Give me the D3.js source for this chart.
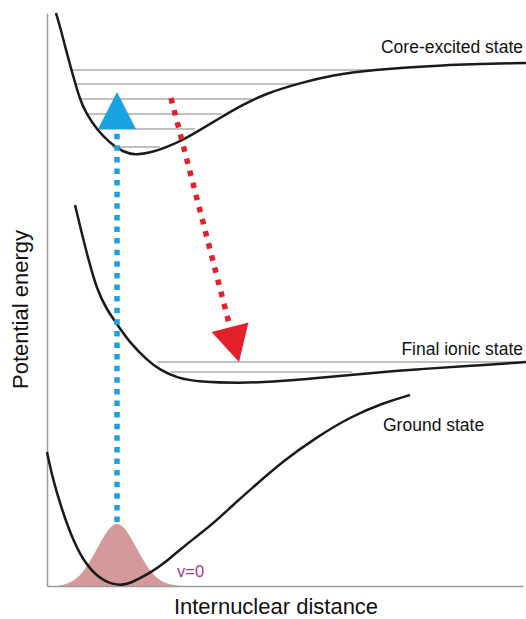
<!DOCTYPE html>
<html>
<head>
<meta charset="utf-8">
<script src="https://cdn.jsdelivr.net/npm/d3@7"></script>
<style>
    body { margin: 0; background: #fff; }
    svg { display: block; font-family: "Liberation Sans", Arial, sans-serif; }
    .axis .domain { stroke: #9a9a9a; stroke-width: 1.5; }
    .curve { fill: none; stroke: #1a1a1a; stroke-width: 2.5; }
    .level { stroke: #ababab; stroke-width: 1.5; }
</style>
</head>
<body>
<svg id="chart"></svg>
<script>
// r = internuclear distance (arb. units), E = potential energy (arb. units)
const coreExcited = [
    [0.09, 5.73], [0.14, 5.56], [0.19, 5.36], [0.25, 5.14], [0.33, 4.86],
    [0.39, 4.73], [0.50, 4.56], [0.63, 4.43], [0.76, 4.34], [0.88, 4.31],
    [1.03, 4.33], [1.20, 4.39], [1.36, 4.46], [1.53, 4.56], [1.73, 4.68],
    [1.93, 4.80], [2.20, 4.93], [2.53, 5.03], [2.86, 5.11], [3.23, 5.16],
    [3.93, 5.21], [4.79, 5.23]
];
const finalIonic = [
    [0.28, 3.81], [0.34, 3.56], [0.41, 3.28], [0.50, 2.96], [0.60, 2.76],
    [0.70, 2.62], [0.83, 2.43], [1.00, 2.26], [1.13, 2.16], [1.30, 2.08],
    [1.53, 2.04], [1.93, 2.03], [2.23, 2.04], [2.73, 2.08], [3.23, 2.13],
    [3.73, 2.17], [4.23, 2.20], [4.79, 2.24]
];
const groundState = [
    [0.00, 1.34], [0.06, 1.06], [0.16, 0.73], [0.26, 0.46], [0.36, 0.26],
    [0.50, 0.09], [0.66, 0.01], [0.80, 0.01], [0.93, 0.08], [1.03, 0.13],
    [1.20, 0.25], [1.36, 0.39], [1.53, 0.52], [1.70, 0.66], [1.86, 0.81],
    [2.03, 0.96], [2.36, 1.25], [2.70, 1.49], [3.03, 1.69], [3.36, 1.83],
    [3.63, 1.91]
];
// v=0 vibrational wavepacket of the ground state
const wavepacket = [
    [0.11, 0], [0.20, 0.02], [0.30, 0.07], [0.40, 0.19], [0.50, 0.37],
    [0.60, 0.56], [0.70, 0.65], [0.80, 0.56], [0.90, 0.37], [1.00, 0.19],
    [1.10, 0.07], [1.20, 0.02], [1.33, 0]
];
// vibrational levels: [E, rLeft, rRight]
const coreLevels = [
    [5.16, 0.24, 3.25], [5.02, 0.28, 2.51], [4.87, 0.33, 2.05],
    [4.72, 0.40, 1.75], [4.57, 0.50, 1.48], [4.39, 0.65, 1.13]
];
const ionicLevels = [
    [2.24, 1.10, 4.79], [2.14, 1.23, 3.05]
];
// transitions: [tail, tip]
const excitation = [[0.70, 0.64], [0.70, 4.94]];
const decay = [[1.24, 4.88], [1.92, 2.24]];

const stateLabels = ["Core-excited state", "Final ionic state", "Ground state"];
const stateLabelPos = [[4.76, 5.33], [4.76, 2.31], [3.36, 1.55]];

const width = 526, height = 619;

const svg = d3.select("#chart")
    .attr("width", width)
    .attr("height", height);

const x = d3.scaleLinear().domain([0, 4.76]).range([47, 523]);
const y = d3.scaleLinear().domain([0, 5.73]).range([586, 13]);

const line = d3.line()
    .x((d) => x(d[0]))
    .y((d) => y(d[1]))
    .curve(d3.curveBasis);

// vibrational levels
svg.append("g")
    .selectAll("line")
    .data(coreLevels.concat(ionicLevels))
    .join("line")
    .attr("class", "level")
    .attr("x1", (d) => x(d[1]))
    .attr("x2", (d) => x(d[2]))
    .attr("y1", (d) => y(d[0]))
    .attr("y2", (d) => y(d[0]));

// wavepacket
svg.append("path")
    .datum(wavepacket)
    .attr("fill", "#d49a9b")
    .attr("d", d3.area()
        .x((d) => x(d[0]))
        .y0(y(0))
        .y1((d) => y(d[1]))
        .curve(d3.curveBasis));

// axes, lines only
svg.append("g")
    .attr("class", "axis")
    .attr("transform", `translate(${x(0)},0)`)
    .call(d3.axisLeft(y).tickValues([]).tickSizeOuter(0));

svg.append("g")
    .attr("class", "axis")
    .attr("transform", `translate(0,${y(0)})`)
    .call(d3.axisBottom(x).tickValues([]).tickSizeOuter(0));

// potential curves
svg.selectAll(".curve")
    .data([coreExcited, finalIonic, groundState])
    .join("path")
    .attr("class", "curve")
    .attr("d", line);

// dotted arrows
function arrow(pts, color, dash, headLen, headHalf) {
    const [x0, y0] = [x(pts[0][0]), y(pts[0][1])];
    const [x1, y1] = [x(pts[1][0]), y(pts[1][1])];
    const len = Math.hypot(x1 - x0, y1 - y0);
    const ux = (x1 - x0) / len, uy = (y1 - y0) / len;
    const bx = x1 - ux * headLen, by = y1 - uy * headLen;

    svg.append("line")
        .attr("x1", x0).attr("y1", y0)
        .attr("x2", bx).attr("y2", by)
        .attr("stroke", color)
        .attr("stroke-width", 5.5)
        .attr("stroke-dasharray", dash);

    svg.append("polygon")
        .attr("fill", color)
        .attr("points", [
            [x1, y1],
            [bx - uy * headHalf, by + ux * headHalf],
            [bx + uy * headHalf, by - ux * headHalf]
        ].map((p) => p.join(",")).join(" "));
}

arrow(excitation, "#1aa3e0", "5.5,6.1", 37, 19);
arrow(decay, "#e2212b", "5.5,7", 36, 19);

// labels
svg.selectAll(".state-label")
    .data(stateLabels)
    .join("text")
    .attr("class", "state-label")
    .attr("x", (d, i) => x(stateLabelPos[i][0]))
    .attr("y", (d, i) => y(stateLabelPos[i][1]))
    .attr("text-anchor", (d, i) => i < 2 ? "end" : "start")
    .attr("font-size", 17.5)
    .attr("fill", "#111")
    .text((d) => d);

svg.append("text")
    .attr("x", x(1.30))
    .attr("y", y(0.09))
    .attr("font-size", 16.5)
    .attr("fill", "#a63a7b")
    .text("v=0");

svg.append("text")
    .attr("x", (x(0) + x(4.76)) / 2 - 9)
    .attr("y", 614)
    .attr("text-anchor", "middle")
    .attr("font-size", 22)
    .attr("fill", "#111")
    .text("Internuclear distance");

svg.append("text")
    .attr("transform", `translate(28,${(y(0) + y(5.73)) / 2 + 10}) rotate(-90)`)
    .attr("text-anchor", "middle")
    .attr("font-size", 22)
    .attr("fill", "#111")
    .text("Potential energy");
</script>
</body>
</html>
